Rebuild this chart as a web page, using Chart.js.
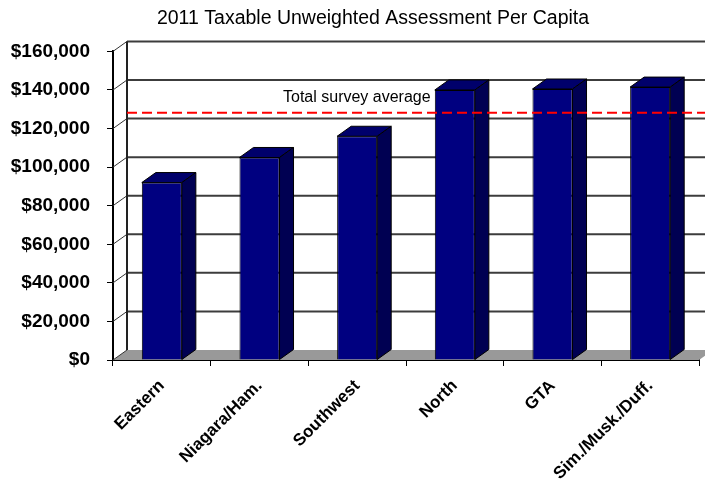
<!DOCTYPE html>
<html>
<head>
<meta charset="utf-8">
<script src="https://cdn.jsdelivr.net/npm/chart.js@4"></script>
<style>
    html, body { margin: 0; padding: 0; background: #fff; overflow: hidden; }
</style>
</head>
<body>
<canvas id="grafico" width="705" height="480"></canvas>
<script>
const regioes = ["Eastern", "Niagara/Ham.", "Southwest", "North", "GTA", "Sim./Musk./Duff."]
const valores = [92000, 105000, 116000, 140000, 140500, 141500]
const mediaTotal = 123000
const ticksY = [0, 20000, 40000, 60000, 80000, 100000, 120000, 140000, 160000]

// profundidade do efeito 3D (px)
const DX = 14
const DY = -10
const fonte = "'Liberation Sans', Arial, sans-serif"

const efeito3d = {
    id: "efeito3d",
    afterLayout(chart) {
        // o título do original fica um pouco à direita do centro
        chart.titleBlock.left = 41
        chart.titleBlock.right = chart.width
    },
    beforeDatasetsDraw(chart) {
        const { ctx, chartArea: a, scales: { y } } = chart
        ctx.save()

        // chão
        ctx.fillStyle = "#999"
        ctx.beginPath()
        ctx.moveTo(a.left, a.bottom)
        ctx.lineTo(a.right, a.bottom)
        ctx.lineTo(a.right + DX, a.bottom + DY)
        ctx.lineTo(a.left + DX, a.bottom + DY)
        ctx.closePath()
        ctx.fill()

        // grade na parede do fundo
        y.ticks.forEach(t => {
            const py = y.getPixelForValue(t.value)
            if (t.value > 0) {
                ctx.strokeStyle = "#3c3c3c"
                ctx.lineWidth = 2
                ctx.beginPath()
                ctx.moveTo(a.left + DX, py + DY)
                ctx.lineTo(chart.width, py + DY)
                ctx.stroke()
            }
            ctx.strokeStyle = "#333"
            ctx.lineWidth = 1
            ctx.beginPath()
            ctx.moveTo(a.left, py)
            ctx.lineTo(a.left + DX, py + DY)
            ctx.stroke()
        })

        ctx.strokeStyle = "#222"
        ctx.lineWidth = 2
        ctx.beginPath()
        ctx.moveTo(a.left + DX, a.top + DY)
        ctx.lineTo(a.left + DX, a.bottom + DY)
        ctx.stroke()
        ctx.restore()
    },
    afterDatasetsDraw(chart) {
        const { ctx, chartArea: a, scales: { y } } = chart
        ctx.save()
        ctx.strokeStyle = "#000"
        ctx.lineWidth = 1
        ctx.lineJoin = "round"

        chart.getDatasetMeta(0).data.forEach(bar => {
            const l = bar.x - bar.width / 2
            const r = bar.x + bar.width / 2

            ctx.fillStyle = "#00006b"
            ctx.beginPath()
            ctx.moveTo(l, bar.y)
            ctx.lineTo(l + DX, bar.y + DY)
            ctx.lineTo(r + DX, bar.y + DY)
            ctx.lineTo(r, bar.y)
            ctx.closePath()
            ctx.fill()
            ctx.stroke()

            ctx.fillStyle = "#000052"
            ctx.beginPath()
            ctx.moveTo(r, bar.y)
            ctx.lineTo(r + DX, bar.y + DY)
            ctx.lineTo(r + DX, bar.base + DY)
            ctx.lineTo(r, bar.base)
            ctx.closePath()
            ctx.fill()
            ctx.stroke()
        })

        // linha da média
        const ym = y.getPixelForValue(mediaTotal) + DY
        ctx.strokeStyle = "#ff0000"
        ctx.lineWidth = 2
        ctx.setLineDash([10, 5])
        ctx.beginPath()
        ctx.moveTo(a.left + DX, ym)
        ctx.lineTo(chart.width, ym)
        ctx.stroke()
        ctx.setLineDash([])

        ctx.fillStyle = "#000"
        ctx.font = `16px ${fonte}`
        ctx.textBaseline = "middle"
        ctx.fillText("Total survey average", a.left + 170, ym - 15)
        ctx.restore()
    }
}

new Chart(document.getElementById("grafico"), {
    type: "bar",
    data: {
        labels: regioes,
        datasets: [{
            data: valores,
            backgroundColor: "#000080",
            borderColor: "#000",
            borderWidth: 1,
            barPercentage: 0.41,
            categoryPercentage: 1
        }]
    },
    options: {
        responsive: false,
        animation: false,
        layout: { padding: { left: 0, right: 6, top: 0, bottom: 0 } },
        plugins: {
            legend: { display: false },
            tooltip: { enabled: false },
            title: {
                display: true,
                text: "2011 Taxable Unweighted Assessment Per Capita",
                color: "#000",
                font: { family: fonte, size: 19.5, weight: "normal" },
                padding: { top: 7, bottom: 21 }
            }
        },
        scales: {
            x: {
                grid: { drawOnChartArea: false, tickLength: 6, color: "#000" },
                border: { display: true, color: "#000", width: 2 },
                ticks: {
                    color: "#000",
                    font: { family: fonte, size: 17, weight: "bold" },
                    maxRotation: 45,
                    minRotation: 45,
                    padding: 10
                },
                afterFit(scale) {
                    scale.height = 120
                    scale.paddingLeft = 0
                    scale.paddingRight = 0
                }
            },
            y: {
                min: 0,
                max: 160000,
                afterBuildTicks(scale) {
                    scale.ticks = ticksY.map(v => ({ value: v }))
                },
                grid: { drawOnChartArea: false, tickLength: 6, color: "#000" },
                border: { display: true, color: "#000", width: 2 },
                ticks: {
                    color: "#000",
                    font: { family: fonte, size: 19, weight: "bold" },
                    padding: 17,
                    callback: v => "$" + v.toLocaleString("en-US")
                },
                afterFit(scale) {
                    scale.width = 113
                    scale.paddingTop = 0
                    scale.paddingBottom = 0
                }
            }
        }
    },
    plugins: [efeito3d]
})
</script>
</body>
</html>
